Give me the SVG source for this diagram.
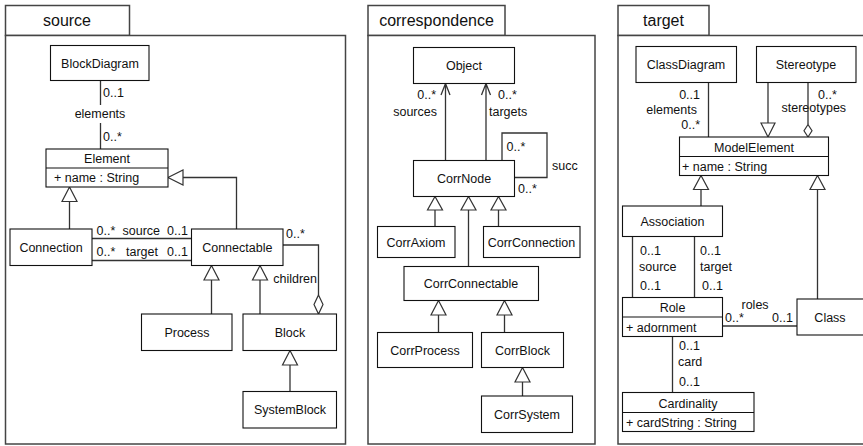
<svg xmlns="http://www.w3.org/2000/svg" width="863" height="446" viewBox="0 0 863 446">
  <style>
    text { font-family: "Liberation Sans", Arial, sans-serif; font-size: 12.5px; fill: #111; }
    .title { font-size: 16px; text-anchor: middle; }
    .c { text-anchor: middle; }
    .e { text-anchor: end; }
    .pkg { fill: #fff; stroke: #444; stroke-width: 1.5; }
    .box { fill: #fff; stroke: #111; stroke-width: 1.1; }
    .ln { fill: none; stroke: #333; stroke-width: 1.3; }
    .tri { fill: #fff; stroke: #333; stroke-width: 1.2; }
  </style>

  <!-- packages -->
  <g id="pkg-source">
    <rect class="pkg" x="5.5" y="5.5" width="124" height="30"/>
    <rect class="pkg" x="5.5" y="35.5" width="340" height="408.5"/>
    <text class="title" x="67" y="26">source</text>
  </g>
  <g id="pkg-correspondence">
    <rect class="pkg" x="368" y="5.5" width="137" height="30"/>
    <rect class="pkg" x="368" y="35.5" width="227" height="408.5"/>
    <text class="title" x="436.5" y="26">correspondence</text>
  </g>
  <g id="pkg-target">
    <rect class="pkg" x="618" y="5.5" width="91" height="30"/>
    <rect class="pkg" x="618" y="35.5" width="260" height="408.5"/>
    <text class="title" x="663.5" y="26">target</text>
  </g>

  <!-- connectors -->
  <g id="connectors">
    <!-- source -->
    <path class="ln" d="M100.5,80.5 V105 M100.5,123 V149"/>
    <text x="103" y="96.5">0..1</text>
    <text class="c" x="100" y="118">elements</text>
    <text x="103" y="141">0..*</text>

    <path class="ln" d="M69.5,229 V201.5"/>
    <polygon class="tri" points="69.5,187 62,201.5 77,201.5"/>
    <path class="ln" d="M236.5,229 V177.5 H183"/>
    <polygon class="tri" points="168,177.5 183,170 183,185"/>

    <path class="ln" d="M92,238.5 H191.5 M92,260.5 H191.5"/>
    <text x="96.5" y="235">0..*</text>
    <text x="122.5" y="235">source</text>
    <text x="167" y="235">0..1</text>
    <text x="96.5" y="255.5">0..*</text>
    <text x="126" y="255.5">target</text>
    <text x="167" y="255.5">0..1</text>

    <path class="ln" d="M211.5,314 V280 M260,314 V280"/>
    <polygon class="tri" points="211.5,265.5 204,280 219,280"/>
    <polygon class="tri" points="260,265.5 252.5,280 267.5,280"/>

    <path class="ln" d="M283,245 H318.5 V295"/>
    <polygon class="tri" points="318.5,295 323,304.5 318.5,314 314,304.5"/>
    <text x="286" y="238">0..*</text>
    <text class="e" x="317" y="283">children</text>

    <path class="ln" d="M290,391.5 V365"/>
    <polygon class="tri" points="290,350.5 282.5,365 297.5,365"/>

    <!-- correspondence -->
    <path class="ln" d="M445.5,160.5 V83.5 M441,95 L445.5,83.5 L450,95"/>
    <path class="ln" d="M486,160.5 V83.5 M481.5,95 L486,83.5 L490.5,95"/>
    <text class="e" x="436" y="99">0..*</text>
    <text class="e" x="437" y="116">sources</text>
    <text x="498" y="99">0..*</text>
    <text x="489" y="116">targets</text>

    <path class="ln" d="M502,160.5 V133 H547 V177.5 H514.5"/>
    <text x="506.5" y="151">0..*</text>
    <text x="552" y="170">succ</text>
    <text x="518" y="193">0..*</text>

    <path class="ln" d="M435,210 V226.5 M498.5,210 V226.5 M468.5,210 V266.5"/>
    <polygon class="tri" points="435,196.5 427.5,210 442.5,210"/>
    <polygon class="tri" points="468.5,196.5 461,210 476,210"/>
    <polygon class="tri" points="498.5,196.5 491,210 506,210"/>

    <path class="ln" d="M438.5,315 V332.5 M504.5,315 V332.5"/>
    <polygon class="tri" points="438.5,300.5 431,315 446,315"/>
    <polygon class="tri" points="504.5,300.5 497,315 512,315"/>

    <path class="ln" d="M522.5,382 V396"/>
    <polygon class="tri" points="522.5,367.5 515,382 530,382"/>

    <!-- target -->
    <path class="ln" d="M708.5,82.5 V137"/>
    <text class="e" x="700" y="99">0..1</text>
    <text class="e" x="697" y="113.5">elements</text>
    <text class="e" x="700" y="129">0..*</text>

    <path class="ln" d="M768,82.5 V123"/>
    <polygon class="tri" points="768,137 761,123 775,123"/>
    <text x="818" y="99">0..*</text>
    <text x="781.5" y="111.5">stereotypes</text>
    <path class="ln" d="M808,82.5 V124.5"/>
    <polygon class="tri" points="808,124.5 812,130.8 808,137 804,130.8"/>

    <path class="ln" d="M701,206 V189.5 M817.5,299 V189.5"/>
    <polygon class="tri" points="701,175.5 693.5,189.5 708.5,189.5"/>
    <polygon class="tri" points="817.5,175.5 810,189.5 825,189.5"/>

    <path class="ln" d="M632.5,236.5 V297.5 M694.5,236.5 V297.5"/>
    <text x="640" y="254.5">0..1</text>
    <text x="639" y="271">source</text>
    <text x="640" y="290">0..1</text>
    <text x="700" y="254.5">0..1</text>
    <text x="700" y="271">target</text>
    <text x="702" y="290">0..1</text>

    <path class="ln" d="M722.5,326 H797"/>
    <text x="741.5" y="308.5">roles</text>
    <text x="725" y="321.5">0..*</text>
    <text x="772" y="321.5">0..1</text>

    <path class="ln" d="M672.5,336.5 V392.5"/>
    <text x="679" y="350">0..1</text>
    <text x="678" y="366">card</text>
    <text x="679" y="386">0..1</text>
  </g>

  <!-- source classes -->
  <g id="BlockDiagram">
    <rect class="box" x="50.5" y="45.5" width="98.5" height="35"/>
    <text class="c" x="100" y="67.5">BlockDiagram</text>
  </g>
  <g id="Element">
    <rect class="box" x="46" y="149" width="122" height="38"/>
    <path class="box" d="M46,168 H168"/>
    <text class="c" x="107" y="163">Element</text>
    <text x="54" y="182">+ name : String</text>
  </g>
  <g id="Connection">
    <rect class="box" x="10" y="229" width="82" height="36.5"/>
    <text class="c" x="51" y="251.5">Connection</text>
  </g>
  <g id="Connectable">
    <rect class="box" x="191.5" y="229" width="91.5" height="36.5"/>
    <text class="c" x="237.3" y="251.5">Connectable</text>
  </g>
  <g id="Process">
    <rect class="box" x="141.5" y="314" width="90.5" height="36.5"/>
    <text class="c" x="187" y="336.5">Process</text>
  </g>
  <g id="Block">
    <rect class="box" x="243" y="314" width="93.5" height="36.5"/>
    <text class="c" x="290" y="336.5">Block</text>
  </g>
  <g id="SystemBlock">
    <rect class="box" x="243" y="391.5" width="93.5" height="36.5"/>
    <text class="c" x="290" y="414">SystemBlock</text>
  </g>

  <!-- correspondence classes -->
  <g id="Object">
    <rect class="box" x="413.5" y="47.5" width="101" height="36"/>
    <text class="c" x="464" y="69.5">Object</text>
  </g>
  <g id="CorrNode">
    <rect class="box" x="413.5" y="160.5" width="101" height="36"/>
    <text class="c" x="464" y="183">CorrNode</text>
  </g>
  <g id="CorrAxiom">
    <rect class="box" x="377.5" y="226.5" width="77.5" height="31"/>
    <text class="c" x="416" y="246.5">CorrAxiom</text>
  </g>
  <g id="CorrConnection">
    <rect class="box" x="483.5" y="226.5" width="96.5" height="31"/>
    <text class="c" x="531.5" y="246.5">CorrConnection</text>
  </g>
  <g id="CorrConnectable">
    <rect class="box" x="404" y="266.5" width="134.5" height="34"/>
    <text class="c" x="471" y="288">CorrConnectable</text>
  </g>
  <g id="CorrProcess">
    <rect class="box" x="377.5" y="332.5" width="95" height="35"/>
    <text class="c" x="425" y="354.5">CorrProcess</text>
  </g>
  <g id="CorrBlock">
    <rect class="box" x="481.5" y="332.5" width="82" height="35"/>
    <text class="c" x="522.5" y="354.5">CorrBlock</text>
  </g>
  <g id="CorrSystem">
    <rect class="box" x="481.5" y="396" width="91" height="36.5"/>
    <text class="c" x="527" y="419">CorrSystem</text>
  </g>

  <!-- target classes -->
  <g id="ClassDiagram">
    <rect class="box" x="636" y="46.5" width="100.5" height="36"/>
    <text class="c" x="686" y="69">ClassDiagram</text>
  </g>
  <g id="Stereotype">
    <rect class="box" x="756.5" y="46.5" width="99.5" height="36"/>
    <text class="c" x="806" y="69">Stereotype</text>
  </g>
  <g id="ModelElement">
    <rect class="box" x="679.5" y="137" width="149" height="38.5"/>
    <path class="box" d="M679.5,156.5 H828.5"/>
    <text class="c" x="754" y="151.5">ModelElement</text>
    <text x="682" y="171">+ name : String</text>
  </g>
  <g id="Association">
    <rect class="box" x="622.5" y="206" width="100" height="30.5"/>
    <text class="c" x="672.5" y="226">Association</text>
  </g>
  <g id="Role">
    <rect class="box" x="622.5" y="297.5" width="100" height="39"/>
    <path class="box" d="M622.5,317 H722.5"/>
    <text class="c" x="672.5" y="312">Role</text>
    <text x="626" y="332">+ adornment</text>
  </g>
  <g id="Class">
    <rect class="box" x="797" y="299" width="75" height="36"/>
    <text class="c" x="830" y="321.5">Class</text>
  </g>
  <g id="Cardinality">
    <rect class="box" x="622.5" y="392.5" width="131.5" height="39"/>
    <path class="box" d="M622.5,412.5 H754"/>
    <text class="c" x="688" y="407.5">Cardinality</text>
    <text x="626" y="427">+ cardString : String</text>
  </g>
</svg>
